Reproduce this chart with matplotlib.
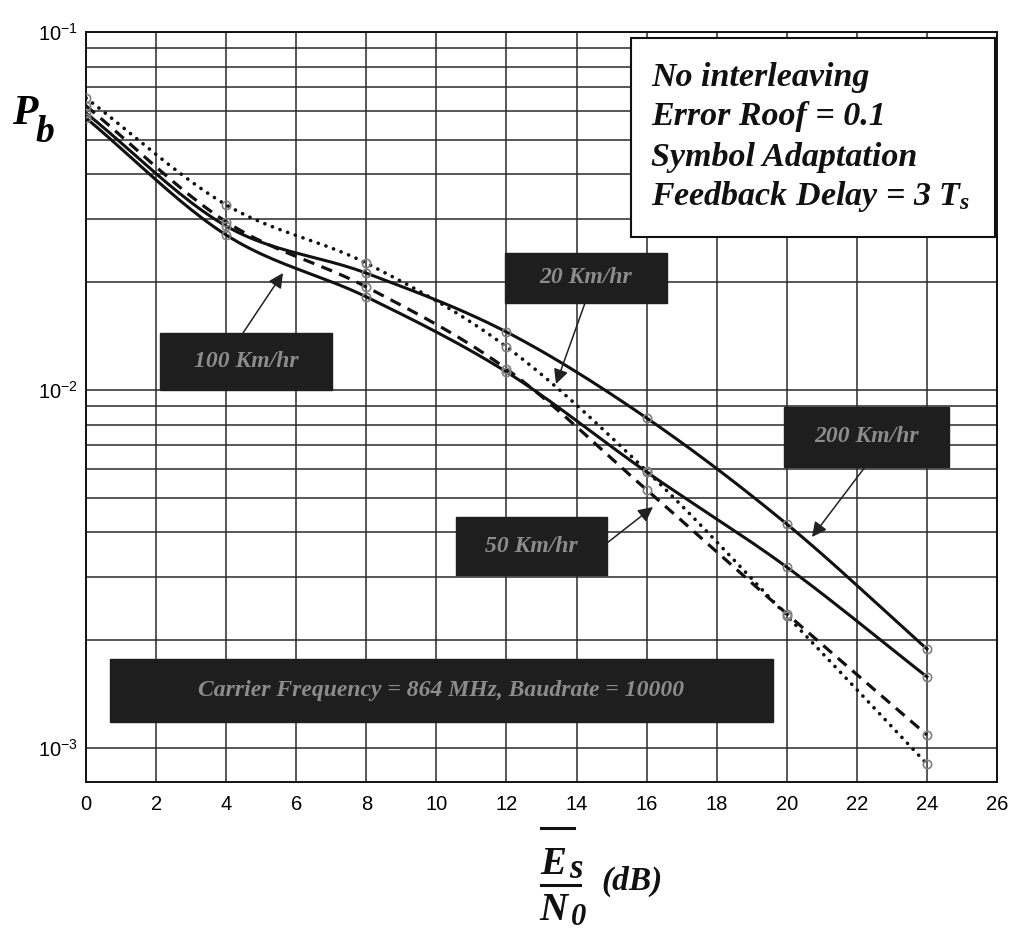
import numpy as np
import matplotlib
matplotlib.use("Agg")
import matplotlib.pyplot as plt
from matplotlib.patches import Rectangle
from matplotlib.lines import Line2D
from matplotlib.ticker import FixedLocator, LogFormatterMathtext, NullFormatter

# ---------------- data ----------------
snr_db = [0, 4, 8, 12, 16, 20, 24]
pb_20kmh = [0.0654, 0.0329, 0.0226, 0.0132, 0.00594, 0.00234, 0.000902]
pb_50kmh = [0.0622, 0.0295, 0.0194, 0.01145, 0.00526, 0.00237, 0.001087]
pb_100kmh = [0.0575, 0.0271, 0.0182, 0.01123, 0.00590, 0.00320, 0.00158]
pb_200kmh = [0.0594, 0.0287, 0.0212, 0.01452, 0.00835, 0.00422, 0.00189]
x_ticks = [0, 2, 4, 6, 8, 10, 12, 14, 16, 18, 20, 22, 24, 26]
y_major = [1e-3, 1e-2, 1e-1]
y_minor = [k * 10.0 ** e for e in (-3, -2) for k in range(2, 10)]

info_lines = ["No interleaving", "Error Roof = 0.1", "Symbol Adaptation",
              "Feedback Delay = 3 $T_s$"]

W, H = 1010, 932
plt.rcParams["mathtext.fontset"] = "custom"
plt.rcParams["mathtext.rm"] = "Liberation Serif:bold:italic"
plt.rcParams["mathtext.it"] = "Liberation Serif:bold:italic"
plt.rcParams["mathtext.bf"] = "Liberation Serif:bold:italic"
plt.rcParams["font.family"] = "Liberation Sans"

fig = plt.figure(figsize=(W / 100, H / 100), dpi=100)
fig.patch.set_facecolor("white")


def fx(px):
    return px / W


def fy(py):
    return 1 - py / H


ax = fig.add_axes([fx(86), fy(782), 911 / W, 750 / H])
ax.set_yscale("log")
ax.set_xlim(0, 26)
ax.set_ylim(8.03e-4, 0.1)
ax.set_xticks(x_ticks)
ax.yaxis.set_major_locator(FixedLocator(y_major))
ax.yaxis.set_minor_locator(FixedLocator(y_minor))
ax.yaxis.set_major_formatter(LogFormatterMathtext())
ax.yaxis.set_minor_formatter(NullFormatter())
ax.tick_params(axis="both", which="both", length=0)
ax.tick_params(axis="x", labelsize=14.5, pad=9)
ax.tick_params(axis="y", labelsize=14.5, pad=6)
ax.grid(True, which="both", color="#2a2a2a", linewidth=1.1)
for s in ax.spines.values():
    s.set_color("#111111")
    s.set_linewidth(1.4)


def smooth(x, y, n=24):
    """Catmull-Rom curve through the data points in (x, log10 y)."""
    x = np.asarray(x, float)
    ly = np.log10(np.asarray(y, float))
    m = np.gradient(ly, x)
    xs, ys = [], []
    for i in range(len(x) - 1):
        h = x[i + 1] - x[i]
        t = np.linspace(0, 1, n, endpoint=False)
        h00 = 2 * t**3 - 3 * t**2 + 1
        h10 = t**3 - 2 * t**2 + t
        h01 = -2 * t**3 + 3 * t**2
        h11 = t**3 - t**2
        xs.append(x[i] + t * h)
        ys.append(h00 * ly[i] + h10 * h * m[i] + h01 * ly[i + 1] + h11 * h * m[i + 1])
    xs.append([x[-1]])
    ys.append([ly[-1]])
    return np.concatenate(xs), 10 ** np.concatenate(ys)


series = [
    (pb_200kmh, dict(linestyle="-", linewidth=2.2)),
    (pb_100kmh, dict(linestyle="-", linewidth=2.2)),
    (pb_50kmh, dict(linestyle=(0, (3.6, 2.4)), linewidth=2.3)),
    (pb_20kmh, dict(linestyle=(0, (0.05, 2.2)), linewidth=2.6, dash_capstyle="round")),
]
for vals, st in series:
    sx, sy = smooth(snr_db, vals)
    ax.plot(sx, sy, color="#111111", zorder=3, **st)
    ax.plot(snr_db, vals, linestyle="none", marker="o", markersize=6,
            markerfacecolor="none", markeredgecolor="#808080",
            markeredgewidth=1.2, zorder=4)


def ax_frac(px, py):
    return ((px - 86) / 911, (782 - py) / 750)


def dark_box(x0, y0, x1, y1, label, size=17):
    a0 = ax_frac(x0, y1)
    a1 = ax_frac(x1, y0)
    r = Rectangle(a0, a1[0] - a0[0], a1[1] - a0[1], transform=ax.transAxes,
                  facecolor="#1e1e1e", edgecolor="#1e1e1e", zorder=6, clip_on=False)
    ax.add_patch(r)
    ax.text((a0[0] + a1[0]) / 2, (a0[1] + a1[1]) / 2, label, transform=ax.transAxes,
            ha="center", va="center", fontsize=size, color="#8c8c8c",
            fontfamily="Liberation Serif", fontstyle="italic", fontweight="bold",
            zorder=7)


def arrow(start, tip):
    ax.annotate("", xy=ax_frac(*tip), xycoords="axes fraction",
                xytext=ax_frac(*start), textcoords="axes fraction",
                arrowprops=dict(arrowstyle="-|>", color="#222222", lw=1.1,
                                mutation_scale=22, shrinkA=0, shrinkB=0),
                zorder=5)


dark_box(160, 333, 332, 390, "100 Km/hr")
arrow((243, 333), (283, 273))
dark_box(505, 253, 667, 303, "20 Km/hr")
arrow((585, 303), (556, 384))
dark_box(784, 407, 949, 467, "200 Km/hr")
arrow((865, 467), (812, 537))
dark_box(456, 517, 607, 575, "50 Km/hr")
arrow((607, 543), (653, 507))
dark_box(110, 659, 773, 722, "Carrier Frequency = 864 MHz, Baudrate = 10000", size=17)

# info box
b0 = ax_frac(631, 237)
b1 = ax_frac(995, 38)
ax.add_patch(Rectangle(b0, b1[0] - b0[0], b1[1] - b0[1], transform=ax.transAxes,
                       facecolor="white", edgecolor="#111111", linewidth=1.5,
                       zorder=8, clip_on=False))
for line, base in zip(info_lines, [86, 125, 166, 205]):
    fig.text(fx(651), fy(base), line, ha="left", va="baseline", fontsize=24.5,
             fontfamily="Liberation Serif", fontstyle="italic", fontweight="bold",
             color="#111111", zorder=9)

# y label P_b
fig.text(fx(12), fy(124), "P", fontsize=30, fontfamily="Liberation Serif",
         fontstyle="italic", fontweight="bold", va="baseline", ha="left")
fig.text(fx(36), fy(142), "b", fontsize=27, fontfamily="Liberation Serif",
         fontstyle="italic", fontweight="bold", va="baseline", ha="left")

# x label  (E_s overline) / N_0  (dB)
serif = dict(fontfamily="Liberation Serif", fontstyle="italic", fontweight="bold",
             va="baseline", ha="left", color="#111111")
fig.add_artist(Line2D([fx(541), fx(574)], [fy(828), fy(828)], color="#111111", lw=2.2))
fig.text(fx(540), fy(874), "E", fontsize=28, **serif)
fig.text(fx(569), fy(878), "s", fontsize=25, **serif)
fig.add_artist(Line2D([fx(541), fx(580)], [fy(885), fy(885)], color="#111111", lw=2.2))
fig.text(fx(539), fy(920), "N", fontsize=28, **serif)
fig.text(fx(571), fy(925), "0", fontsize=22, **serif)
fig.text(fx(601), fy(890), "(dB)", fontsize=24, **serif)

fig.savefig("out.png", dpi=100, facecolor="white")
